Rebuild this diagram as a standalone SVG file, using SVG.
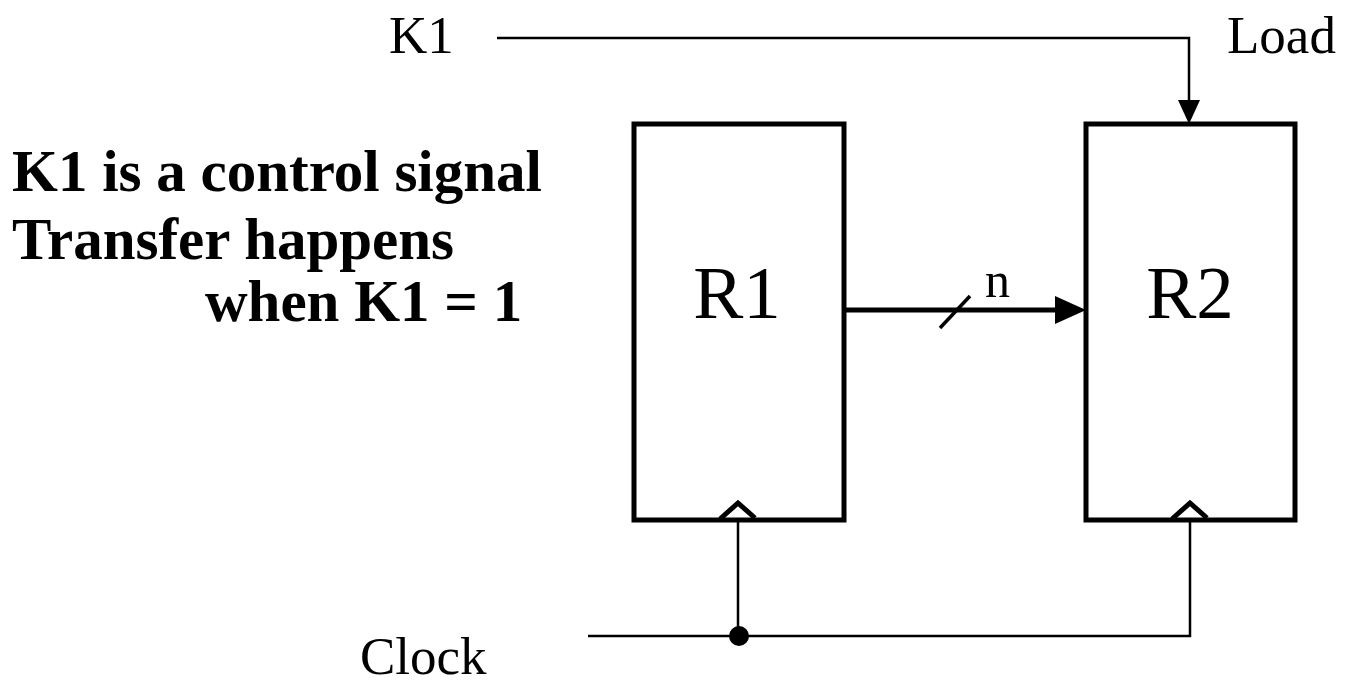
<svg xmlns="http://www.w3.org/2000/svg" width="1352" height="681" viewBox="0 0 1352 681">
<style>
.t{font-family:"Liberation Serif","Times New Roman",serif;fill:#000}
.b{font-family:"Liberation Serif","Times New Roman",serif;font-weight:bold;font-size:59px;fill:#000}
.box{fill:#fff;stroke:#000;stroke-width:5}
.w{fill:none;stroke:#000;stroke-width:2.5}
.clk{fill:none;stroke:#000;stroke-width:5}
</style>
<rect width="1352" height="681" fill="#fff"/>
<g id="R1">
<rect class="box" x="634" y="124" width="210" height="396"/>
<polyline class="clk" points="720,519 738,503 755,518"/>
<text class="t" x="737" y="318" font-size="75" text-anchor="middle">R1</text>
</g>
<g id="R2">
<rect class="box" x="1086" y="124" width="209" height="396"/>
<polyline class="clk" points="1172,519 1190,503 1207,518"/>
<text class="t" x="1190" y="318" font-size="75" text-anchor="middle">R2</text>
</g>
<g id="labels">
<text class="t" x="389" y="53" font-size="53">K1</text>
<text class="t" x="1227" y="53" font-size="53">Load</text>
<text class="t" x="360" y="674" font-size="53">Clock</text>
<text class="t" x="985" y="297" font-size="50">n</text>
<text class="b" x="12" y="191">K1 is a control signal</text>
<text class="b" x="12" y="259">Transfer happens</text>
<text class="b" x="205" y="321">when K1 = 1</text>
</g>
<g id="connectors">
<path class="w" d="M497,38 H1189 V102"/>
<path d="M1178,100 L1200,100 L1189,124 Z" fill="#000"/>
<path d="M844,310 H1056" fill="none" stroke="#000" stroke-width="5"/>
<path d="M1055,296 L1086,310 L1055,324 Z" fill="#000"/>
<path d="M940,328 L970,296" fill="none" stroke="#000" stroke-width="3.5"/>
<path class="w" d="M738,520 V636"/>
<path class="w" d="M588,636 H1190 V520"/>
<circle cx="739" cy="636" r="10" fill="#000"/>
</g>
</svg>
